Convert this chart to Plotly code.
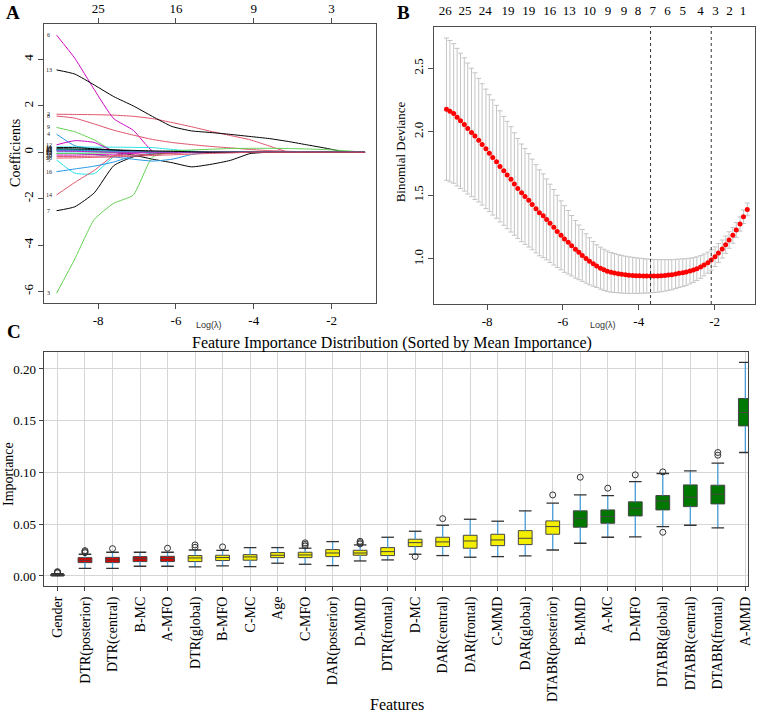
import plotly.graph_objects as go

W, H = 767, 716
SERIF = "Liberation Serif, Times New Roman, serif"
SANS = "Liberation Sans, Arial, sans-serif"

def px(x):
    return x / W

def py(y):
    return 1 - y / H

# ---------------- Panel A : LASSO coefficient paths ----------------
lam_a = [-9.07, -8.6, -8.1, -7.6, -7.1, -6.6, -6.1, -5.6, -5.1, -4.6, -4.1, -3.6, -3.1, -2.6, -2.1, -1.6, -1.14]
var_ids = [1, 2, 3, 4, 5, 6, 7, 8, 9, 10, 11, 12, 13, 14, 15, 16, 17, 18, 19, 20, 21, 22, 23, 24, 25, 26]
coef_paths = [
    [0.12, 0.10, 0.06, 0.0, -0.12, -0.30, -0.45, -0.63, -0.52, -0.35, -0.06, 0, 0, 0, 0, 0, 0],
    [1.64, 1.63, 1.62, 1.60, 1.55, 1.45, 1.28, 1.10, 0.90, 0.72, 0.54, 0.27, 0.0, 0, 0, 0, 0],
    [-6.08, -4.6, -2.9, -2.2, -1.85, -0.2, 0, 0, 0, 0, 0, 0, 0, 0, 0, 0, 0],
    [0.78, 0.28, 0.15, 0.08, 0.03, 0, 0, 0, 0, 0, 0, 0, 0, 0, 0, 0, 0],
    [-0.33, -0.9, -0.92, -0.2, -0.02, 0, 0, 0, 0, 0, 0, 0, 0, 0, 0, 0, 0],
    [5.05, 4.05, 2.7, 1.45, 0.95, 0.05, 0, 0, 0, 0, 0, 0, 0, 0, 0, 0, 0],
    [-2.52, -2.35, -1.75, -0.58, -0.2, -0.08, -0.03, 0, 0, 0, 0, 0, 0, 0, 0, 0, 0],
    [1.56, 1.47, 1.22, 0.95, 0.74, 0.55, 0.42, 0.33, 0.25, 0.19, 0.12, 0.07, 0.04, 0.02, 0.01, 0.0, 0.0],
    [1.07, 0.88, 0.53, 0.05, 0, 0, 0, 0, 0, 0, 0, 0, 0, 0, 0, 0, 0],
    [-0.05, -0.05, -0.1, -0.2, -0.3, -0.38, -0.3, -0.1, 0, 0, 0, 0, 0, 0, 0, 0, 0],
    [0.23, 0.23, 0.22, 0.22, 0.21, 0.2, 0.12, 0.05, 0, 0, 0, 0, 0, 0, 0, 0, 0],
    [0.32, 0.5, 0.42, 0.05, 0, 0, 0, 0, 0, 0, 0, 0, 0, 0, 0, 0, 0],
    [3.55, 3.37, 2.9, 2.4, 2.0, 1.54, 1.11, 0.92, 0.85, 0.77, 0.68, 0.59, 0.46, 0.31, 0.16, 0.0, 0.0],
    [-1.84, -1.3, -0.78, -0.15, -0.03, 0, 0, 0, 0, 0, 0, 0, 0, 0, 0, 0, 0],
    [0.1, 0.1, 0.05, 0.02, 0.0, 0.02, 0.06, 0.1, 0.13, 0.16, 0.17, 0.17, 0.16, 0.14, 0.11, 0.06, 0.0],
    [-0.84, -0.72, -0.6, -0.42, -0.16, -0.04, 0, 0, 0, 0, 0, 0, 0, 0, 0, 0, 0],
    [0.12, 0.12, 0.1, 0.08, 0.05, 0.02, 0, 0, 0, 0, 0, 0, 0, 0, 0, 0, 0],
    [-0.12, -0.12, -0.1, -0.08, -0.05, 0, 0, 0, 0, 0, 0, 0, 0, 0, 0, 0, 0],
    [0.2, 0.2, 0.15, 0.1, 0.05, 0.02, 0, 0, 0, 0, 0, 0, 0, 0, 0, 0, 0],
    [-0.18, -0.18, -0.17, -0.15, -0.12, -0.08, -0.05, -0.02, 0, 0, 0, 0, 0, 0, 0, 0, 0],
    [-0.05, -0.05, -0.04, -0.02, 0, 0, 0, 0, 0, 0, 0, 0, 0, 0, 0, 0, 0],
    [0.08, 0.08, 0.06, 0.04, 0.02, 0, 0, 0, 0, 0, 0, 0, 0, 0, 0, 0, 0],
    [0.02, 0.02, 0.01, 0, 0, 0, 0, 0, 0, 0, 0, 0, 0, 0, 0, 0, 0],
    [0.05, 0.04, 0.02, 0, 0, 0, 0, 0, 0, 0, 0, 0, 0, 0, 0, 0, 0],
    [0.15, 0.14, 0.12, 0.1, 0.08, 0.06, 0.04, 0.02, 0, 0, 0, 0, 0, 0, 0, 0, 0],
    [-0.25, -0.24, -0.22, -0.2, -0.17, -0.14, -0.11, -0.08, -0.05, -0.03, 0, 0, 0, 0, 0, 0, 0],
]
palette = ["#000000", "#DF536B", "#61D04F", "#2297E6", "#28E2E5", "#CD0BBC"]
a_xticks = [-8, -6, -4, -2]
a_xtext = ["-8", "-6", "-4", "-2"]
a_yticks = [-6, -4, -2, 0, 2, 4]
a_ytext = ["-6", "-4", "-2", "0", "2", "4"]
a_top_text = ["25", "16", "9", "3"]

# ---------------- Panel B : cross-validation curve ----------------
lam_b = [-9.07, -8.98, -8.88, -8.79, -8.70, -8.60, -8.51, -8.41, -8.32, -8.22,
         -8.13, -8.03, -7.94, -7.85, -7.75, -7.66, -7.56, -7.47, -7.37, -7.28,
         -7.19, -7.09, -7.00, -6.90, -6.81, -6.71, -6.62, -6.52, -6.43, -6.34,
         -6.24, -6.15, -6.05, -5.96, -5.86, -5.77, -5.67, -5.58, -5.49, -5.39,
         -5.30, -5.20, -5.11, -5.01, -4.92, -4.83, -4.73, -4.64, -4.54, -4.45,
         -4.35, -4.26, -4.16, -4.07, -3.98, -3.88, -3.79, -3.69, -3.60, -3.50,
         -3.41, -3.31, -3.22, -3.13, -3.03, -2.94, -2.84, -2.75, -2.65, -2.56,
         -2.47, -2.37, -2.28, -2.18, -2.09, -1.99, -1.90, -1.80, -1.71, -1.62,
         -1.52, -1.43, -1.33, -1.24, -1.14]
cvm = [2.178, 2.162, 2.144, 2.115, 2.086, 2.058, 2.026, 1.995, 1.966, 1.934,
       1.901, 1.866, 1.832, 1.798, 1.764, 1.728, 1.693, 1.660, 1.626, 1.589,
       1.555, 1.520, 1.492, 1.461, 1.429, 1.395, 1.363, 1.340, 1.311, 1.280,
       1.249, 1.217, 1.186, 1.157, 1.131, 1.104, 1.076, 1.052, 1.028, 1.004,
       0.982, 0.962, 0.944, 0.928, 0.915, 0.904, 0.895, 0.889, 0.884, 0.880,
       0.876, 0.873, 0.871, 0.869, 0.868, 0.867, 0.866, 0.866, 0.866, 0.867,
       0.868, 0.871, 0.874, 0.876, 0.882, 0.887, 0.892, 0.897, 0.905, 0.913,
       0.924, 0.937, 0.953, 0.971, 0.992, 1.018, 1.047, 1.078, 1.112, 1.149,
       1.186, 1.227, 1.275, 1.332, 1.390]
cvsd = [0.559, 0.556, 0.549, 0.541, 0.532, 0.524, 0.515, 0.505, 0.498, 0.486,
        0.477, 0.470, 0.460, 0.453, 0.444, 0.437, 0.428, 0.422, 0.414, 0.403,
        0.393, 0.384, 0.377, 0.367, 0.356, 0.347, 0.338, 0.329, 0.318, 0.308,
        0.297, 0.284, 0.271, 0.262, 0.250, 0.238, 0.227, 0.215, 0.204, 0.194,
        0.185, 0.176, 0.168, 0.165, 0.162, 0.159, 0.156, 0.153, 0.150, 0.148,
        0.146, 0.144, 0.142, 0.140, 0.138, 0.136, 0.134, 0.132, 0.130, 0.128,
        0.126, 0.124, 0.121, 0.118, 0.115, 0.112, 0.109, 0.105, 0.101, 0.097,
        0.093, 0.089, 0.086, 0.083, 0.080, 0.077, 0.074, 0.071, 0.068, 0.065,
        0.062, 0.059, 0.056, 0.053, 0.050]
lambda_min = -3.69
lambda_1se = -2.09
b_top_pos = [-9.10, -8.58, -8.05, -7.45, -6.90, -6.35, -5.83, -5.30, -4.81,
             -4.39, -4.02, -3.63, -3.24, -2.84, -2.37, -1.98, -1.61, -1.25]
b_top_text = ["26", "25", "24", "19", "19", "16", "13", "10", "9",
              "9", "8", "7", "6", "5", "4", "3", "2", "1"]
b_xticks = [-8, -6, -4, -2]
b_xtext = ["-8", "-6", "-4", "-2"]
b_yticks = [1.0, 1.5, 2.0, 2.5]
b_ytext = ["1.0", "1.5", "2.0", "2.5"]

# ---------------- Panel C : feature importance boxplots ----------------
features = ["Gender", "DTR(posterior)", "DTR(central)", "B-MC", "A-MFO", "DTR(global)",
            "B-MFO", "C-MC", "Age", "C-MFO", "DAR(posterior)", "D-MMD", "DTR(frontal)",
            "D-MC", "DAR(central)", "DAR(frontal)", "C-MMD", "DAR(global)",
            "DTABR(posterior)", "B-MMD", "A-MC", "D-MFO", "DTABR(global)",
            "DTABR(central)", "DTABR(frontal)", "A-MMD"]
q1 = [0.0004, 0.0129, 0.0129, 0.0139, 0.0139, 0.0139, 0.0149, 0.0152, 0.0177, 0.0177,
      0.0187, 0.0200, 0.0197, 0.0284, 0.0284, 0.0268, 0.0293, 0.0303, 0.0403, 0.0471,
      0.0509, 0.0580, 0.0638, 0.0670, 0.0696, 0.1450]
med = [0.0008, 0.0152, 0.0155, 0.0165, 0.0168, 0.0174, 0.0178, 0.0184, 0.0200, 0.0203,
       0.0222, 0.0222, 0.0235, 0.0322, 0.0329, 0.0338, 0.0348, 0.0364, 0.0477, 0.0558,
       0.0574, 0.0655, 0.0725, 0.0761, 0.0790, 0.1580]
q3 = [0.0014, 0.0177, 0.0180, 0.0187, 0.0190, 0.0197, 0.0200, 0.0206, 0.0226, 0.0229,
      0.0255, 0.0248, 0.0274, 0.0355, 0.0374, 0.0393, 0.0403, 0.0438, 0.0532, 0.0629,
      0.0638, 0.0716, 0.0777, 0.0880, 0.0877, 0.1715]
whisk_lo = [0.0, 0.0074, 0.0074, 0.0094, 0.0094, 0.0087, 0.0097, 0.0090, 0.0123, 0.0113,
            0.0100, 0.0145, 0.0155, 0.0210, 0.0197, 0.0181, 0.0187, 0.0194, 0.0251, 0.0316,
            0.0374, 0.0377, 0.0477, 0.0490, 0.0464, 0.1193]
whisk_hi = [0.0022, 0.0210, 0.0229, 0.0229, 0.0229, 0.0251, 0.0248, 0.0274, 0.0274, 0.0268,
            0.0332, 0.0300, 0.0374, 0.0432, 0.0490, 0.0548, 0.0529, 0.0629, 0.0703, 0.0783,
            0.0777, 0.0912, 0.0990, 0.1015, 0.1090, 0.2063]
box_group = ["black", "red", "red", "red", "red", "yellow", "yellow", "yellow", "yellow",
             "yellow", "yellow", "yellow", "yellow", "yellow", "yellow", "yellow", "yellow",
             "yellow", "yellow", "green", "green", "green", "green", "green", "green", "green"]
out_feature = ["Gender", "Gender", "Gender", "DTR(posterior)", "DTR(posterior)", "DTR(posterior)",
               "DTR(central)", "A-MFO", "DTR(global)", "DTR(global)", "B-MFO",
               "C-MFO", "C-MFO", "C-MFO", "D-MMD", "D-MMD", "D-MMD", "D-MC",
               "DAR(central)", "DTABR(posterior)", "B-MMD", "A-MC", "D-MFO",
               "DTABR(global)", "DTABR(global)", "DTABR(frontal)", "DTABR(frontal)"]
out_value = [0.0030, 0.0036, 0.0042, 0.0225, 0.0235, 0.0245,
             0.0264, 0.0268, 0.0277, 0.0300, 0.0281,
             0.0290, 0.0305, 0.0320, 0.0310, 0.0322, 0.0335, 0.0187,
             0.0554, 0.0783, 0.0954, 0.0848, 0.0977,
             0.1006, 0.0422, 0.1193, 0.1167]
c_yticks = [0.0, 0.05, 0.10, 0.15, 0.20]
c_ytext = ["0.00", "0.05", "0.10", "0.15", "0.20"]

group_fill = {"black": "#1a1a1a", "red": "#d80000", "yellow": "#f4ee00", "green": "#007800"}

fig = go.Figure()

# ---- Panel A traces
for vid, path in zip(var_ids, coef_paths):
    fig.add_trace(go.Scatter(x=lam_a, y=path, mode="lines",
                             line=dict(color=palette[(vid - 1) % 6], width=1,
                                       shape="spline", smoothing=0.5),
                             xaxis="x", yaxis="y", hoverinfo="skip", showlegend=False))
fig.add_trace(go.Scatter(x=a_xticks, y=[0] * len(a_xticks), mode="markers",
                         marker=dict(opacity=0), xaxis="x3", yaxis="y",
                         hoverinfo="skip", showlegend=False))

# ---- Panel B traces
fig.add_trace(go.Scatter(x=lam_b, y=cvm, mode="markers",
                         marker=dict(color="#ff0000", size=5),
                         error_y=dict(type="data", array=cvsd, color="#c4c4c4",
                                      thickness=1, width=2.5),
                         xaxis="x2", yaxis="y2", hoverinfo="skip", showlegend=False))
fig.add_trace(go.Scatter(x=b_top_pos, y=[1.0] * len(b_top_pos), mode="markers",
                         marker=dict(opacity=0), xaxis="x4", yaxis="y2",
                         hoverinfo="skip", showlegend=False))

# ---- Panel C traces
pos = list(range(len(features)))
wx, wy = [], []
for i in pos:
    wx += [i, i, None, i, i, None]
    wy += [q3[i], whisk_hi[i], None, q1[i], whisk_lo[i], None]
fig.add_trace(go.Scatter(x=wx, y=wy, mode="lines", line=dict(color="#4a9fd8", width=1.3),
                         xaxis="x5", yaxis="y5", hoverinfo="skip", showlegend=False))

for g in ["black", "red", "yellow", "green"]:
    idx = [i for i in pos if box_group[i] == g]
    fig.add_trace(go.Box(
        x=idx,
        q1=[q1[i] for i in idx], median=[med[i] for i in idx], q3=[q3[i] for i in idx],
        lowerfence=[q1[i] for i in idx], upperfence=[q3[i] for i in idx],
        fillcolor=group_fill[g], line=dict(color="#454545", width=1),
        width=0.5, whiskerwidth=0, xaxis="x5", yaxis="y5",
        hoverinfo="skip", showlegend=False))

fig.add_trace(go.Scatter(x=pos + pos, y=whisk_lo + whisk_hi, mode="markers",
                         marker=dict(symbol="line-ew", size=9, color="#333333",
                                     line=dict(width=1.3, color="#333333")),
                         xaxis="x5", yaxis="y5", hoverinfo="skip", showlegend=False))
fig.add_trace(go.Scatter(x=[features.index(f) for f in out_feature], y=out_value, mode="markers",
                         marker=dict(symbol="circle-open", size=6, color="#333333",
                                     line=dict(width=1, color="#333333")),
                         xaxis="x5", yaxis="y5", hoverinfo="skip", showlegend=False))

# ---- shapes: dashed lines in B
shapes = []
for lv in [lambda_min, lambda_1se]:
    shapes.append(dict(type="line", xref="x2", yref="y2 domain", x0=lv, x1=lv, y0=0, y1=1,
                       line=dict(color="#333333", width=1, dash="3px,3px")))

tickfont = dict(family=SERIF, size=13, color="#000000")
base_axis = dict(showgrid=False, zeroline=False, showline=True, mirror=True,
                 linecolor="#4d4d4d", linewidth=1, ticks="outside", ticklen=5,
                 tickcolor="#4d4d4d", tickfont=tickfont)

layout = dict(
    width=W, height=H, autosize=False,
    margin=dict(l=0, r=0, t=0, b=0),
    paper_bgcolor="white", plot_bgcolor="white",
    showlegend=False, boxmode="overlay",
    shapes=shapes,
    # Panel A
    xaxis=dict(base_axis, domain=[px(44), px(378)], anchor="y", range=[-9.40, -0.87],
               tickmode="array", tickvals=a_xticks, ticktext=a_xtext),
    yaxis=dict(base_axis, domain=[py(303), py(24)], anchor="x", range=[-6.5, 5.53],
               tickmode="array", tickvals=a_yticks, ticktext=a_ytext, tickangle=-90),
    xaxis3=dict(base_axis, overlaying="x", side="top", anchor="y", range=[-9.40, -0.87],
                tickmode="array", tickvals=a_xticks, ticktext=a_top_text, showline=False),
    # Panel B
    xaxis2=dict(base_axis, domain=[px(437), px(760)], anchor="y2", range=[-9.395, -0.935],
                tickmode="array", tickvals=b_xticks, ticktext=b_xtext),
    yaxis2=dict(base_axis, domain=[py(304), py(27)], anchor="x2", range=[0.646, 2.824],
                tickmode="array", tickvals=b_yticks, ticktext=b_ytext, tickangle=-90),
    xaxis4=dict(base_axis, overlaying="x2", side="top", anchor="y2", range=[-9.395, -0.935],
                tickmode="array", tickvals=b_top_pos, ticktext=b_top_text,
                tickcolor="rgba(0,0,0,0)", ticklen=6, showline=False),
    # Panel C
    xaxis5=dict(domain=[px(44), px(753)], anchor="y5", range=[-0.5, 25.1],
                tickmode="array", tickvals=pos, ticktext=features, tickangle=-90,
                showgrid=True, gridcolor="#d6d6d6", gridwidth=1, zeroline=False,
                showline=True, mirror=True, linecolor="#444444", linewidth=1,
                ticks="outside", ticklen=4, tickcolor="#444444",
                tickfont=dict(family=SERIF, size=14, color="#000000")),
    yaxis5=dict(domain=[py(586), py(352)], anchor="x5", range=[-0.0097, 0.2164],
                tickmode="array", tickvals=c_yticks, ticktext=c_ytext,
                showgrid=True, gridcolor="#d6d6d6", gridwidth=1, zeroline=False,
                showline=True, mirror=True, linecolor="#444444", linewidth=1,
                ticks="outside", ticklen=4, tickcolor="#444444", tickfont=tickfont),
)

ann = []
# variable labels at the left of panel A
for vid, path in zip(var_ids, coef_paths):
    ann.append(dict(x=-9.27, y=path[0], xref="x", yref="y", text=str(vid), showarrow=False,
                    font=dict(family=SERIF, size=6, color="#222222"), xanchor="center", yanchor="middle"))

def txt(x, y, text, size, family=SERIF, bold=False, angle=0, color="#000000"):
    return dict(x=px(x), y=py(y), xref="paper", yref="paper", showarrow=False,
                text=("<b>%s</b>" % text) if bold else text, textangle=angle,
                font=dict(family=family, size=size, color=color),
                xanchor="center", yanchor="middle")

ann += [
    txt(13, 12, "A", 19, bold=True),
    txt(406, 12, "B", 19, bold=True),
    txt(14, 331, "C", 19, bold=True),
    txt(210, 325, "Log(λ)", 9, family=SANS, color="#333333"),
    txt(607, 325, "Log(λ)", 9, family=SANS, color="#333333"),
    txt(15, 153, "Coefficients", 14, angle=-90),
    txt(403, 152, "Binomial Deviance", 13, angle=-90),
    txt(8, 474, "Importance", 14, angle=-90),
    txt(395, 343, "Feature Importance Distribution (Sorted by Mean Importance)", 16),
    txt(400, 704, "Features", 16),
]
layout["annotations"] = ann

fig.update_layout(**layout)
fig.write_html("out.html")
